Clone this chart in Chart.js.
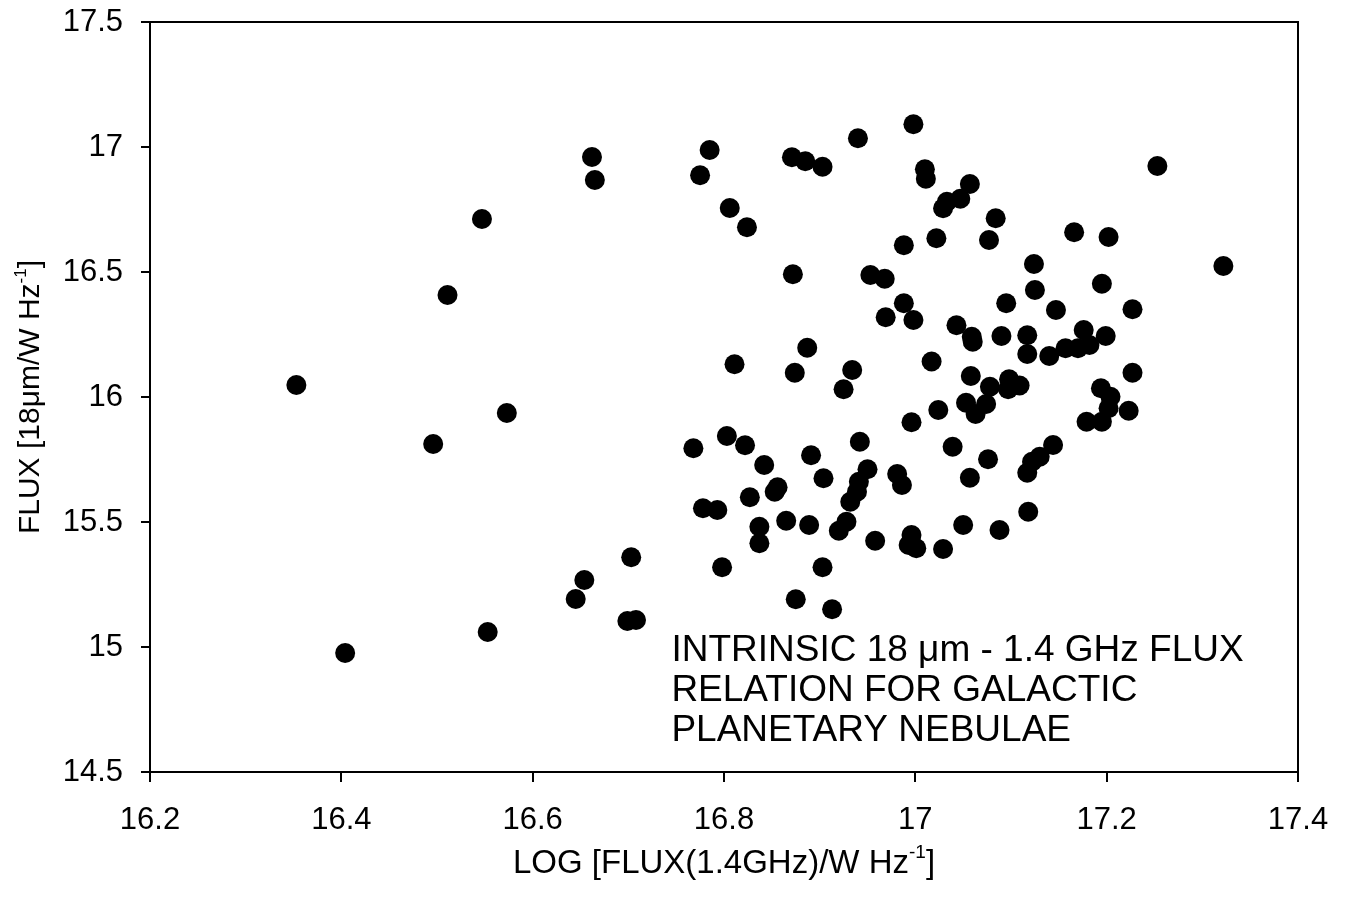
<!DOCTYPE html>
<html>
<head>
<meta charset="utf-8">
<title>Intrinsic 18 μm - 1.4 GHz flux relation</title>
<script src="https://cdn.jsdelivr.net/npm/chart.js@4.4.1/dist/chart.umd.min.js"></script>
<style>
    html, body { margin: 0; padding: 0; background: #ffffff; }
    #wrap { width: 1346px; height: 900px; }
</style>
</head>
<body>
<div id="wrap"><canvas id="fluxChart" width="1346" height="900"></canvas></div>
<script>
// LOG radio flux at 1.4 GHz (x) and 18 micron flux (y)
const radioFlux = [
    16.353, 16.404, 16.496, 16.511, 16.547, 16.553, 16.573, 16.645, 16.654, 16.662,
    16.665, 16.699, 16.703, 16.708, 16.785, 16.775, 16.871, 16.885, 16.903, 16.940,
    16.998, 17.010, 17.011, 16.806, 16.824, 16.872, 16.988, 16.953, 16.968, 16.988,
    16.969, 16.998, 16.887, 16.811, 16.874, 16.934, 16.925, 17.017, 17.022, 17.057,
    17.047, 17.033, 17.029, 17.084, 17.077, 17.253, 17.166, 17.202, 17.322, 17.124,
    17.125, 17.195, 17.095, 17.147, 17.227, 17.043, 17.059, 17.060, 17.090, 17.117,
    17.117, 17.140, 17.157, 17.170, 17.176, 17.182, 17.199, 17.227, 17.058, 17.078,
    17.098, 17.109, 17.097, 17.194, 17.204, 17.202, 17.195, 17.179, 17.223, 17.053,
    17.074, 17.063, 17.024, 16.996, 17.039, 17.076, 17.057, 17.144, 17.130, 17.122,
    17.117, 17.118, 17.050, 17.088, 17.029, 16.768, 16.803, 16.822, 16.842, 16.891,
    16.942, 16.904, 16.950, 16.981, 16.986, 16.941, 16.939, 16.932, 16.856, 16.853,
    16.827, 16.778, 16.793, 16.837, 16.837, 16.865, 16.889, 16.928, 16.920, 16.958,
    16.996, 16.993, 17.001, 16.798, 16.903, 16.875, 16.913
];
const irFlux = [
    16.048, 14.976, 15.812, 16.408, 16.712, 15.060, 15.936, 15.192, 15.268, 16.960,
    16.868, 15.104, 15.359, 15.108, 16.988, 16.887, 16.959, 16.943, 16.921, 17.035,
    17.091, 16.911, 16.873, 16.756, 16.679, 16.491, 16.607, 16.488, 16.473, 16.375,
    16.319, 16.308, 16.197, 16.131, 16.097, 16.108, 16.031, 16.142, 16.635, 16.852,
    16.793, 16.781, 16.755, 16.715, 16.628, 16.924, 16.659, 16.640, 16.524, 16.532,
    16.428, 16.453, 16.375, 16.348, 16.351, 16.287, 16.241, 16.221, 16.244, 16.247,
    16.172, 16.164, 16.195, 16.195, 16.268, 16.208, 16.244, 16.097, 16.084, 16.041,
    16.071, 16.046, 16.031, 16.035, 16.001, 15.955, 15.901, 15.901, 15.945, 15.977,
    15.972, 15.932, 15.948, 15.899, 15.801, 15.751, 15.677, 15.808, 15.761, 15.741,
    15.697, 15.541, 15.488, 15.468, 15.392, 15.795, 15.844, 15.807, 15.728, 15.767,
    15.821, 15.675, 15.711, 15.692, 15.648, 15.661, 15.621, 15.581, 15.639, 15.621,
    15.599, 15.555, 15.548, 15.481, 15.415, 15.505, 15.488, 15.501, 15.465, 15.425,
    15.448, 15.408, 15.395, 15.319, 15.319, 15.191, 15.151
];
const xTickLabels = ['16.2', '16.4', '16.6', '16.8', '17', '17.2', '17.4'];
const yTickLabels = ['14.5', '15', '15.5', '16', '16.5', '17', '17.5'];
const noteLines = [
    'INTRINSIC 18 \u03bcm - 1.4 GHz FLUX',
    'RELATION FOR GALACTIC',
    'PLANETARY NEBULAE'
];

const FONT = "'Liberation Sans', Arial, Helvetica, sans-serif";

// draws "text + superscript + text" centred on x
function drawRichText(ctx, parts, x, y, size) {
    let total = 0;
    parts.forEach(p => {
        ctx.font = (p.sup ? Math.round(size * 0.58) : size) + 'px ' + FONT;
        p.w = ctx.measureText(p.t).width;
        total += p.w;
    });
    let cx = x - total / 2;
    parts.forEach(p => {
        ctx.font = (p.sup ? Math.round(size * 0.58) : size) + 'px ' + FONT;
        ctx.fillText(p.t, cx, p.sup ? y - size * 0.45 : y);
        cx += p.w;
    });
}

const decorPlugin = {
    id: 'decor',
    afterDraw(chart) {
        const ctx = chart.ctx;
        const area = chart.chartArea;
        const xs = chart.scales.x;
        const ys = chart.scales.y;
        ctx.save();

        // frame around plot
        ctx.strokeStyle = '#000';
        ctx.lineWidth = 2;
        ctx.strokeRect(area.left, area.top, area.right - area.left, area.bottom - area.top);

        ctx.fillStyle = '#000';
        ctx.textAlign = 'left';
        ctx.textBaseline = 'alphabetic';

        // x axis title
        drawRichText(ctx, [
            { t: 'LOG [FLUX(1.4GHz)/W Hz' }, { t: '-1', sup: true }, { t: ']' }
        ], (area.left + area.right) / 2, 873, 33);

        // y axis title
        ctx.save();
        ctx.translate(39, (area.top + area.bottom) / 2);
        ctx.rotate(-Math.PI / 2);
        drawRichText(ctx, [
            { t: 'FLUX [18\u03bcm/W Hz' }, { t: '-1', sup: true }, { t: ']' }
        ], 0, 0, 30);
        ctx.restore();

        // annotation
        ctx.font = '37px ' + FONT;
        const nx = xs.getPixelForValue(16.745);
        const ny = ys.getPixelForValue(14.944);
        noteLines.forEach((line, i) => {
            ctx.fillText(line, nx, ny + i * 40);
        });
        ctx.restore();
    }
};

const ctx = document.getElementById('fluxChart').getContext('2d');
const points = radioFlux.map((x, i) => ({ x: x, y: irFlux[i] }));

new Chart(ctx, {
    type: 'scatter',
    data: {
        datasets: [{
            data: points,
            backgroundColor: '#000',
            borderWidth: 0,
            pointRadius: 10,
            pointHoverRadius: 10
        }]
    },
    options: {
        responsive: false,
        animation: false,
        layout: { padding: { top: 22, right: 48, left: 0, bottom: 0 } },
        plugins: {
            legend: { display: false },
            tooltip: { enabled: false }
        },
        scales: {
            x: {
                type: 'linear',
                min: 16.2,
                max: 17.4,
                afterFit: function (scale) {
                    scale.height = 128;
                    scale.paddingLeft = 0;
                    scale.paddingRight = 0;
                },
                border: { display: true, color: '#000', width: 2 },
                grid: { drawOnChartArea: false, drawTicks: true, tickLength: 10, color: '#000', lineWidth: 2 },
                ticks: {
                    stepSize: 0.2,
                    padding: 20,
                    color: '#000',
                    maxRotation: 0,
                    font: { family: FONT, size: 31 },
                    callback: function (value, index) { return xTickLabels[index]; }
                }
            },
            y: {
                type: 'linear',
                min: 14.5,
                max: 17.5,
                afterFit: function (scale) {
                    scale.width = 150;
                    scale.paddingTop = 0;
                    scale.paddingBottom = 0;
                },
                border: { display: true, color: '#000', width: 2 },
                grid: { drawOnChartArea: false, drawTicks: true, tickLength: 9, color: '#000', lineWidth: 2 },
                ticks: {
                    stepSize: 0.5,
                    padding: 18,
                    color: '#000',
                    font: { family: FONT, size: 31 },
                    callback: function (value, index) { return yTickLabels[index]; }
                }
            }
        }
    },
    plugins: [decorPlugin]
});
</script>
</body>
</html>
